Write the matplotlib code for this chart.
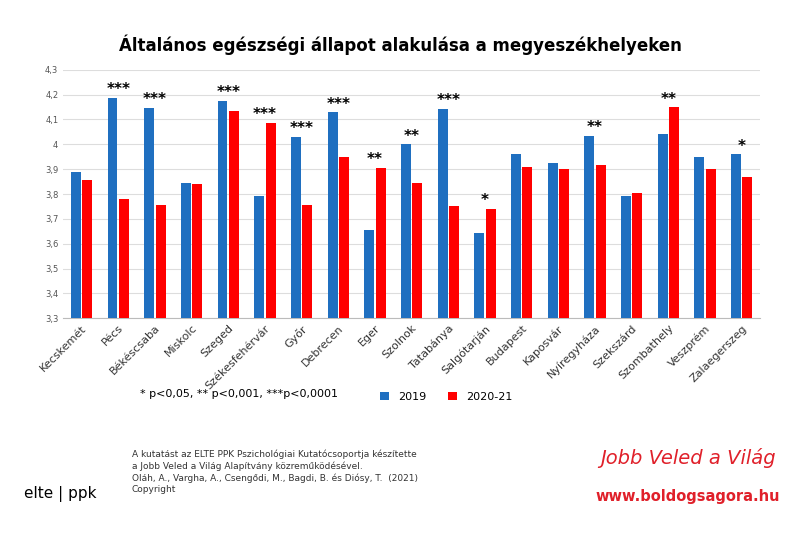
import matplotlib
matplotlib.use("Agg")
import matplotlib.pyplot as plt
import numpy as np

cities = ["Kecskemét","Pécs","Békéscsaba","Miskolc","Szeged","Székesfehérvár","Győr","Debrecen","Eger","Szolnok","Tatabánya","Salgótarján","Budapest","Kaposvár","Nyíregyháza","Szekszárd","Szombathely","Veszprém","Zalaegerszeg"]
v2019 = [3.89,4.187,4.147,3.845,4.175,3.79,4.03,4.13,3.655,4.0,4.143,3.645,3.96,3.925,4.035,3.79,4.04,3.95,3.96]
v2021 = [3.855,3.78,3.755,3.84,4.135,4.087,3.755,3.948,3.905,3.845,3.75,3.74,3.91,3.9,3.918,3.805,4.15,3.9,3.87]
stars = ["","***","***","","***","***","***","***","**","**","***","*","","","**","","**","","*"]
yticks = [3.3,3.4,3.5,3.6,3.7,3.8,3.9,4.0,4.1,4.2,4.3]
ylabels = ["3,3","3,4","3,5","3,6","3,7","3,8","3,9","4","4,1","4,2","4,3"]

fig = plt.figure(figsize=(8,5.33), dpi=100)
ax = fig.add_axes([0.079,0.403,0.871,0.466])
x = np.arange(len(cities))
w = 0.27
ax.bar(x-w/2-0.02, v2019, w, color="#1f6fc0", label="2019", zorder=3)
ax.bar(x+w/2+0.02, v2021, w, color="#ff0000", label="2020-21", zorder=3)
for i,s in enumerate(stars):
    if s:
        ax.text(x[i], max(v2019[i],v2021[i])+0.002, s, ha="center", va="bottom", fontsize=11, fontweight="bold")
ax.set_ylim(3.3,4.3)
ax.set_xlim(-0.5,len(cities)-0.5)
ax.set_yticks(yticks, ylabels, fontsize=6, color="#555555")
ax.set_xticks(x, cities, rotation=45, ha="right", rotation_mode="anchor", fontsize=8, color="#333333")
ax.grid(axis="y", color="#dddddd", lw=0.8, zorder=0)
for s in ["top","right","left"]:
    ax.spines[s].set_visible(False)
ax.spines["bottom"].set_color("#bbbbbb")
ax.tick_params(length=0)
fig.text(0.5,0.905,"Általános egészségi állapot alakulása a megyeszékhelyeken", ha="center", fontsize=12, fontweight="bold")
ax.legend(loc="upper center", bbox_to_anchor=(0.55,-0.255), ncol=2, frameon=False, fontsize=8, handlelength=0.8)
fig.text(0.175,0.255,"* p<0,05, ** p<0,001, ***p<0,0001", fontsize=8)
fig.text(0.165,0.115,"A kutatást az ELTE PPK Pszichológiai Kutatócsoportja készítette\na Jobb Veled a Világ Alapítvány közreműködésével.\nOláh, A., Vargha, A., Csengődi, M., Bagdi, B. és Diósy, T.  (2021)\nCopyright", fontsize=6.5, color="#333333", va="center", linespacing=1.3)
fig.text(0.075,0.065,"elte | ppk", fontsize=11, ha="center")
fig.text(0.86,0.13,"Jobb Veled a Világ", fontsize=14, color="#e0202a", ha="center", style="italic")
fig.text(0.86,0.06,"www.boldogsagora.hu", fontsize=10.5, color="#e0202a", ha="center", fontweight="bold")
fig.savefig("out.png", dpi=100)
